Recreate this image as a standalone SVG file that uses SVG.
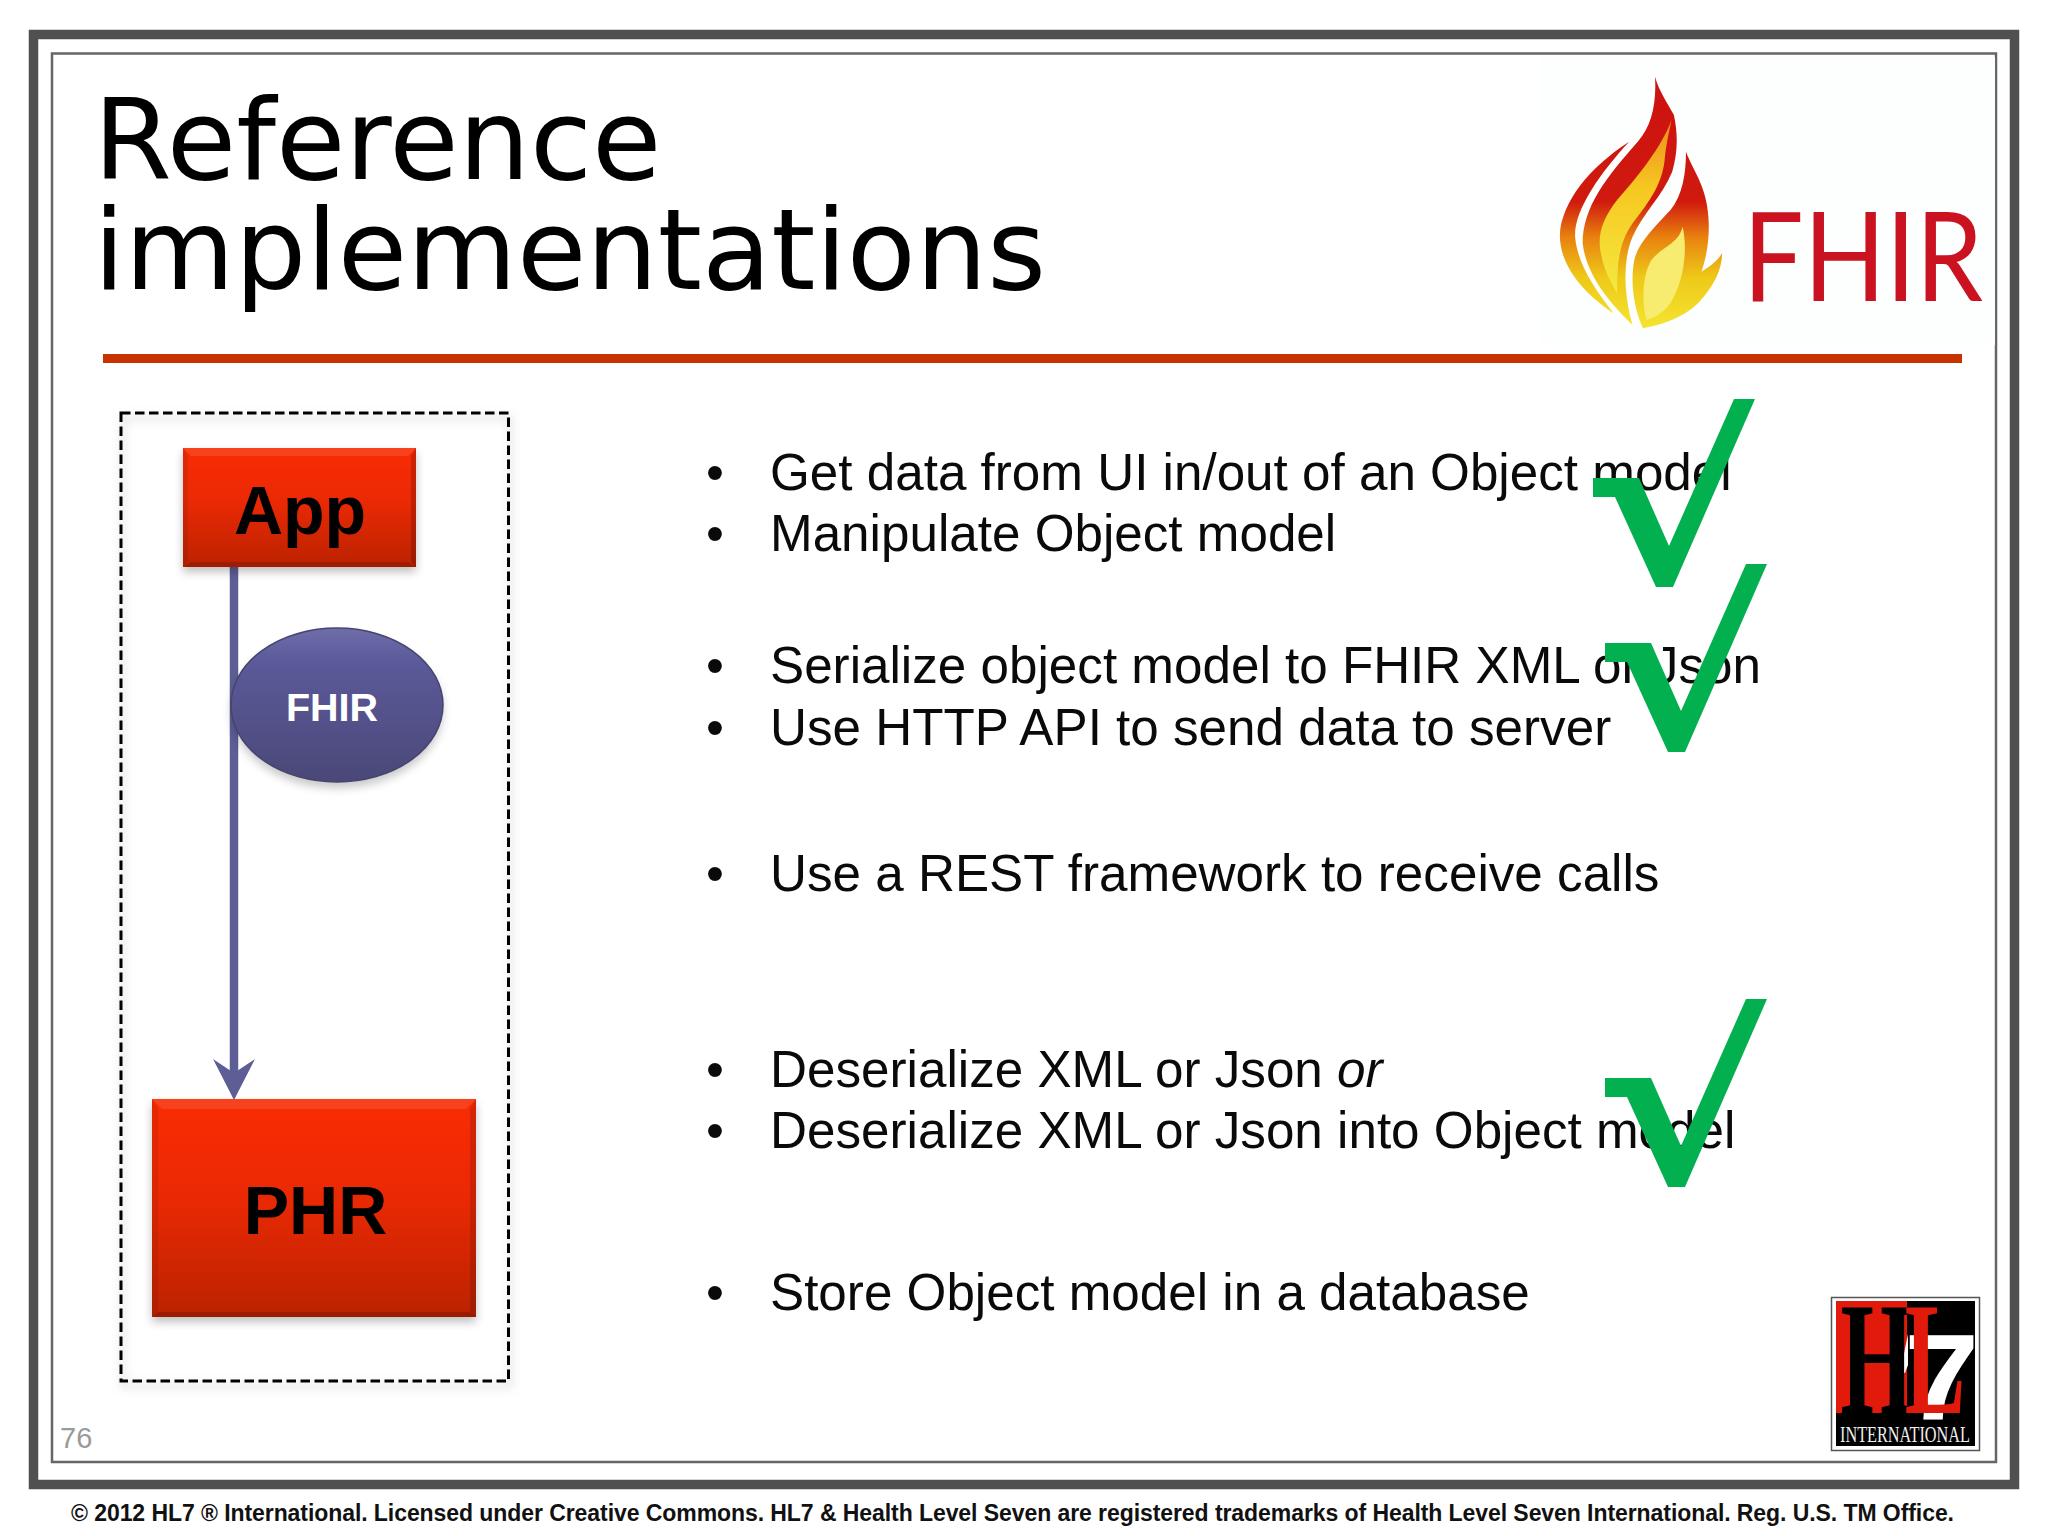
<svg xmlns="http://www.w3.org/2000/svg" width="2048" height="1536" viewBox="0 0 2048 1536">
<style>
.t{font-family:"Liberation Sans",Arial,sans-serif;font-size:51.2px;fill:#0a0a0a}
.b{font-family:"Liberation Sans",Arial,sans-serif;font-weight:700;fill:#000}
.bev{stroke:none}
</style>
<defs>
<linearGradient id="red" x1="0" y1="0" x2="0" y2="1"><stop offset="0" stop-color="#f92c04"/><stop offset=".45" stop-color="#ea2904"/><stop offset="1" stop-color="#bb2200"/></linearGradient>
<linearGradient id="blue" x1="0" y1="0" x2="0" y2="1"><stop offset="0" stop-color="#6f6eaa"/><stop offset=".22" stop-color="#5b5a9a"/><stop offset="1" stop-color="#4a4878"/></linearGradient>
<linearGradient id="fl" gradientUnits="userSpaceOnUse" x1="0" y1="140" x2="0" y2="890"><stop offset="0" stop-color="#cc1111"/><stop offset=".5" stop-color="#d01a0e"/><stop offset=".64" stop-color="#e8800f"/><stop offset=".8" stop-color="#eec818"/><stop offset="1" stop-color="#f4e430"/></linearGradient>
<linearGradient id="fl2" gradientUnits="userSpaceOnUse" x1="0" y1="270" x2="0" y2="780"><stop offset="0" stop-color="#f08a20"/><stop offset=".4" stop-color="#f6c820"/><stop offset="1" stop-color="#f5e840"/></linearGradient>
<filter id="sh" x="-10%" y="-10%" width="120%" height="125%"><feGaussianBlur stdDeviation="5"/></filter>
<marker id="ah" markerUnits="userSpaceOnUse" markerWidth="44" markerHeight="44" refX="21" refY="22" orient="auto" viewBox="0 0 44 44"><path d="M0 1L41 22L0 43L14 22Z" fill="#5d5e96"/></marker>
</defs>
<rect width="2048" height="1536" fill="#fff"/>
<g id="frame" fill="none">
<rect x="33.500" y="34.500" width="1981" height="1450" stroke="#505050" stroke-width="9.500"/>
<rect x="52" y="53.500" width="1944" height="1408.500" stroke="#666" stroke-width="2.500"/>
</g>
<g id="logo-fhir">
<rect x="1540" y="57" width="455" height="288" fill="#fdfefe"/>
<g transform="translate(1500 30) scale(.3444 .3333)">
<path fill="url(#fl)" d="M375 335C300 385 205 470 178 580C160 660 200 760 330 850C270 770 225 700 218 620C215 540 290 430 375 335Z"/>
<path fill="url(#fl)" d="M450 140C462 185 490 225 505 255C518 320 515 370 500 425C470 500 415 550 385 620C355 690 360 800 385 885C310 810 250 730 240 640C240 530 310 440 400 335C440 290 455 220 450 140Z"/>
<path fill="url(#fl2)" d="M498 270C470 350 400 440 340 510C295 570 280 620 295 680C305 730 325 760 340 790C340 700 345 640 385 580C425 525 470 470 478 390C482 345 490 310 498 270Z"/>
<path fill="url(#fl)" d="M540 365C560 420 600 470 605 560C610 620 600 680 585 725C610 710 635 690 645 668C645 720 620 770 575 820C530 865 470 885 415 895C395 850 375 770 390 690C400 640 450 590 495 540C530 495 540 430 540 365Z"/>
<path fill="#f8ec70" d="M530 590C545 650 535 740 505 800C490 835 460 860 425 870C410 810 415 730 440 690C470 650 520 640 530 590Z"/>
</g>
<text x="1743" y="301" font-family="Lato,'Noto Sans',sans-serif" font-size="125" fill="#cb1221" textLength="240" lengthAdjust="spacingAndGlyphs">FHIR</text>
</g>
<g id="title" font-family="'DejaVu Sans',sans-serif" font-size="112.800" fill="#000">
<text x="93.500" y="179">Reference</text>
<text x="93.500" y="289">implementations</text>
</g>
<rect id="rule" x="103" y="354" width="1859" height="9" fill="#c63300"/>
<g id="scope">
<rect x="121" y="413" width="387.500" height="968" fill="none" stroke="#888" stroke-opacity=".35" stroke-width="3" filter="url(#sh)" transform="translate(2 5)"/>
<rect x="121" y="413" width="387.500" height="968" fill="none" stroke="#000" stroke-width="3" stroke-dasharray="9.500 4.500"/>
</g>
<g id="connectors">
<path d="M234 567V1080" fill="none" stroke="#5d5e96" stroke-width="8.500" marker-end="url(#ah)"/>
</g>
<g id="node-app">
<rect x="183" y="453" width="233" height="119" fill="#000" opacity=".25" filter="url(#sh)"/>
<rect x="183" y="448" width="233" height="119" fill="url(#red)"/>
<path class="bev" d="M183 448H416L408 456H191Z" fill="#fff" opacity=".1"/>
<path class="bev" d="M183 567H416L408 562H191Z" fill="#000" opacity=".15"/>
<path class="bev" d="M183 448V567L188 562V456Z" fill="#000" opacity=".08"/>
<path class="bev" d="M416 448V567L411 562V456Z" fill="#000" opacity=".18"/>
<text class="b" x="300" y="534" font-size="68" text-anchor="middle">App</text>
</g>
<g id="node-fhir">
<ellipse cx="337" cy="711" rx="106" ry="77" fill="#000" opacity=".22" filter="url(#sh)"/>
<ellipse cx="337" cy="705" rx="106" ry="77" fill="url(#blue)" stroke="#45456f" stroke-width="1.500"/>
<text class="b" x="332" y="721" font-size="39.500" text-anchor="middle" style="fill:#fff">FHIR</text>
</g>
<g id="node-phr">
<rect x="152" y="1104" width="324" height="218" fill="#000" opacity=".25" filter="url(#sh)"/>
<rect x="152" y="1099" width="324" height="218" fill="url(#red)"/>
<path class="bev" d="M152 1099H476L466 1109H162Z" fill="#fff" opacity=".1"/>
<path class="bev" d="M152 1317H476L470 1312H158Z" fill="#000" opacity=".18"/>
<path class="bev" d="M152 1099V1317L158 1312V1109Z" fill="#000" opacity=".07"/>
<path class="bev" d="M476 1099V1317L470 1312V1109Z" fill="#000" opacity=".14"/>
<text class="b" x="315.500" y="1234" font-size="68" text-anchor="middle">PHR</text>
</g>
<g id="bullets">
<text class="t" x="706" y="489.500">•</text><text class="t" x="770" y="489.500">Get data from UI in/out of an Object model</text>
<text class="t" x="706" y="551">•</text><text class="t" x="770" y="551">Manipulate Object model</text>
<text class="t" x="706" y="683">•</text><text class="t" x="770" y="683">Serialize object model to FHIR XML or Json</text>
<text class="t" x="706" y="744.500">•</text><text class="t" x="770" y="744.500">Use HTTP API to send data to server</text>
<text class="t" x="706" y="890.500">•</text><text class="t" x="770" y="890.500">Use a REST framework to receive calls</text>
<text class="t" x="706" y="1087">•</text><text class="t" x="770" y="1087">Deserialize XML or Json <tspan font-style="italic">or</tspan></text>
<text class="t" x="706" y="1148">•</text><text class="t" x="770" y="1148">Deserialize XML or Json into Object model</text>
<text class="t" x="706" y="1309.500">•</text><text class="t" x="770" y="1309.500">Store Object model in a database</text>
</g>
<g id="checks" fill="#03b050">
<path d="M1593 478H1639L1669 546L1734 399H1755L1673 587H1656L1615 497H1593Z"/>
<path d="M1605 643H1651L1681 711L1746 564H1767L1685 752H1668L1627 662H1605Z"/>
<path d="M1605 1078H1651L1681 1146L1746 999H1767L1685 1187H1668L1627 1097H1605Z"/>
</g>
<text id="page" x="60" y="1448" font-family="'Liberation Sans',sans-serif" font-size="29" fill="#9a9a9a">76</text>
<g id="logo-hl7">
<rect x="1831.500" y="1297.500" width="148" height="153" fill="#fff" stroke="#555" stroke-width="1.500"/>
<rect x="1836" y="1301" width="139" height="145" fill="#000"/>
<rect x="1836" y="1301" width="71" height="112" fill="#e21a0c"/>
<path d="M1900 1373L1908 1334V1365L1905 1373Z" fill="#fff"/>
<text x="0" y="0" transform="translate(1904 1420) scale(1.1 1)" font-family="'Liberation Sans',sans-serif" font-weight="700" font-size="123" fill="#fff">7</text>
<text x="0" y="0" transform="translate(1877 1413) scale(.58 1)" font-family="'Liberation Serif',serif" font-weight="700" font-size="162" fill="#000" text-anchor="middle">H</text>
<text x="0" y="0" transform="translate(1935 1413) scale(.56 1)" font-family="'Liberation Serif',serif" font-weight="700" font-size="162" fill="#e21a0c" text-anchor="middle">L</text>
<text x="1840" y="1442" font-family="'Liberation Serif',serif" font-size="23" fill="#eee" textLength="130" lengthAdjust="spacingAndGlyphs">INTERNATIONAL</text>
</g>
<text id="footer" class="b" x="71" y="1521" font-size="23" textLength="1883" style="fill:#111">© 2012 HL7 ® International. Licensed under Creative Commons. HL7 &amp; Health Level Seven are registered trademarks of Health Level Seven International. Reg. U.S. TM Office.</text>
</svg>
